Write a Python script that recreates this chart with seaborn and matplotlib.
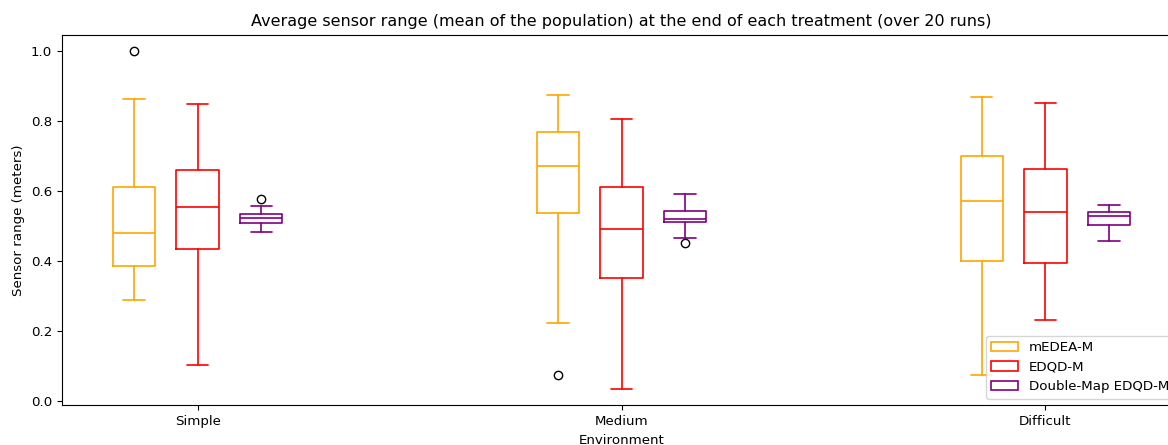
import matplotlib
matplotlib.use("Agg")
import matplotlib.pyplot as plt
from matplotlib.patches import Patch
import seaborn as sns

# ---- data ----
environments = ["Simple", "Medium", "Difficult"]
treatments = ["mEDEA-M", "EDQD-M", "Double-Map EDQD-M"]
colors = ["orange", "red", "purple"]

# [treatment][environment]
whisker_low = [[0.289, 0.223, 0.074],
               [0.104, 0.036, 0.231],
               [0.483, 0.466, 0.458]]
quartile1 = [[0.386, 0.537, 0.400],
             [0.436, 0.351, 0.396],
             [0.508, 0.511, 0.504]]
medians = [[0.482, 0.673, 0.571],
           [0.556, 0.493, 0.542],
           [0.523, 0.521, 0.530]]
quartile3 = [[0.611, 0.769, 0.700],
             [0.661, 0.611, 0.663],
             [0.534, 0.545, 0.542]]
whisker_high = [[0.863, 0.876, 0.871],
                [0.849, 0.808, 0.852],
                [0.559, 0.593, 0.562]]
outliers = [[[1.0], [0.074], []],
            [[], [], []],
            [[0.577], [0.452], []]]

sns.set_style("ticks", rc={"axes.edgecolor": "black", "xtick.color": "black",
                           "ytick.color": "black", "text.color": "black",
                           "axes.labelcolor": "black"})
plt.rcParams["font.family"] = ["DejaVu Sans"]

fig = plt.figure(figsize=(11.68, 4.45), dpi=100)
ax = fig.add_axes([62 / 1168, (445 - 405.3) / 445, 1119 / 1168, 370.6 / 445])

offsets = [-0.15, 0.0, 0.15]
for t, name in enumerate(treatments):
    stats = []
    for e in range(len(environments)):
        stats.append(dict(whislo=whisker_low[t][e], q1=quartile1[t][e],
                          med=medians[t][e], q3=quartile3[t][e],
                          whishi=whisker_high[t][e], fliers=outliers[t][e]))
    c = colors[t]
    lp = dict(color=c, linewidth=1.2)
    ax.bxp(stats, positions=[e + offsets[t] for e in range(len(environments))],
           widths=0.1, boxprops=lp, whiskerprops=lp, capprops=lp,
           medianprops=lp,
           flierprops=dict(marker="o", markerfacecolor="none",
                           markeredgecolor="black", markersize=6),
           manage_ticks=False)

ax.set_xticks(range(len(environments)))
ax.set_xticklabels(environments)
ax.set_xlim(-0.32, 2.32)
ax.set_ylim(-0.012, 1.048)
ax.set_yticks([0.0, 0.2, 0.4, 0.6, 0.8, 1.0])
ax.tick_params(labelsize=9.6)
ax.set_xlabel("Environment", fontsize=9.6)
ax.set_ylabel("Sensor range (meters)", fontsize=9.6)
ax.set_title("Average sensor range (mean of the population) at the end of each treatment (over 20 runs)",
             fontsize=11.5)

handles = [Patch(facecolor="white", edgecolor=c, linewidth=1.2, label=n)
           for n, c in zip(treatments, colors)]
ax.legend(handles=handles, loc="lower right", fontsize=9.6)

fig.savefig("out.png", dpi=100)
